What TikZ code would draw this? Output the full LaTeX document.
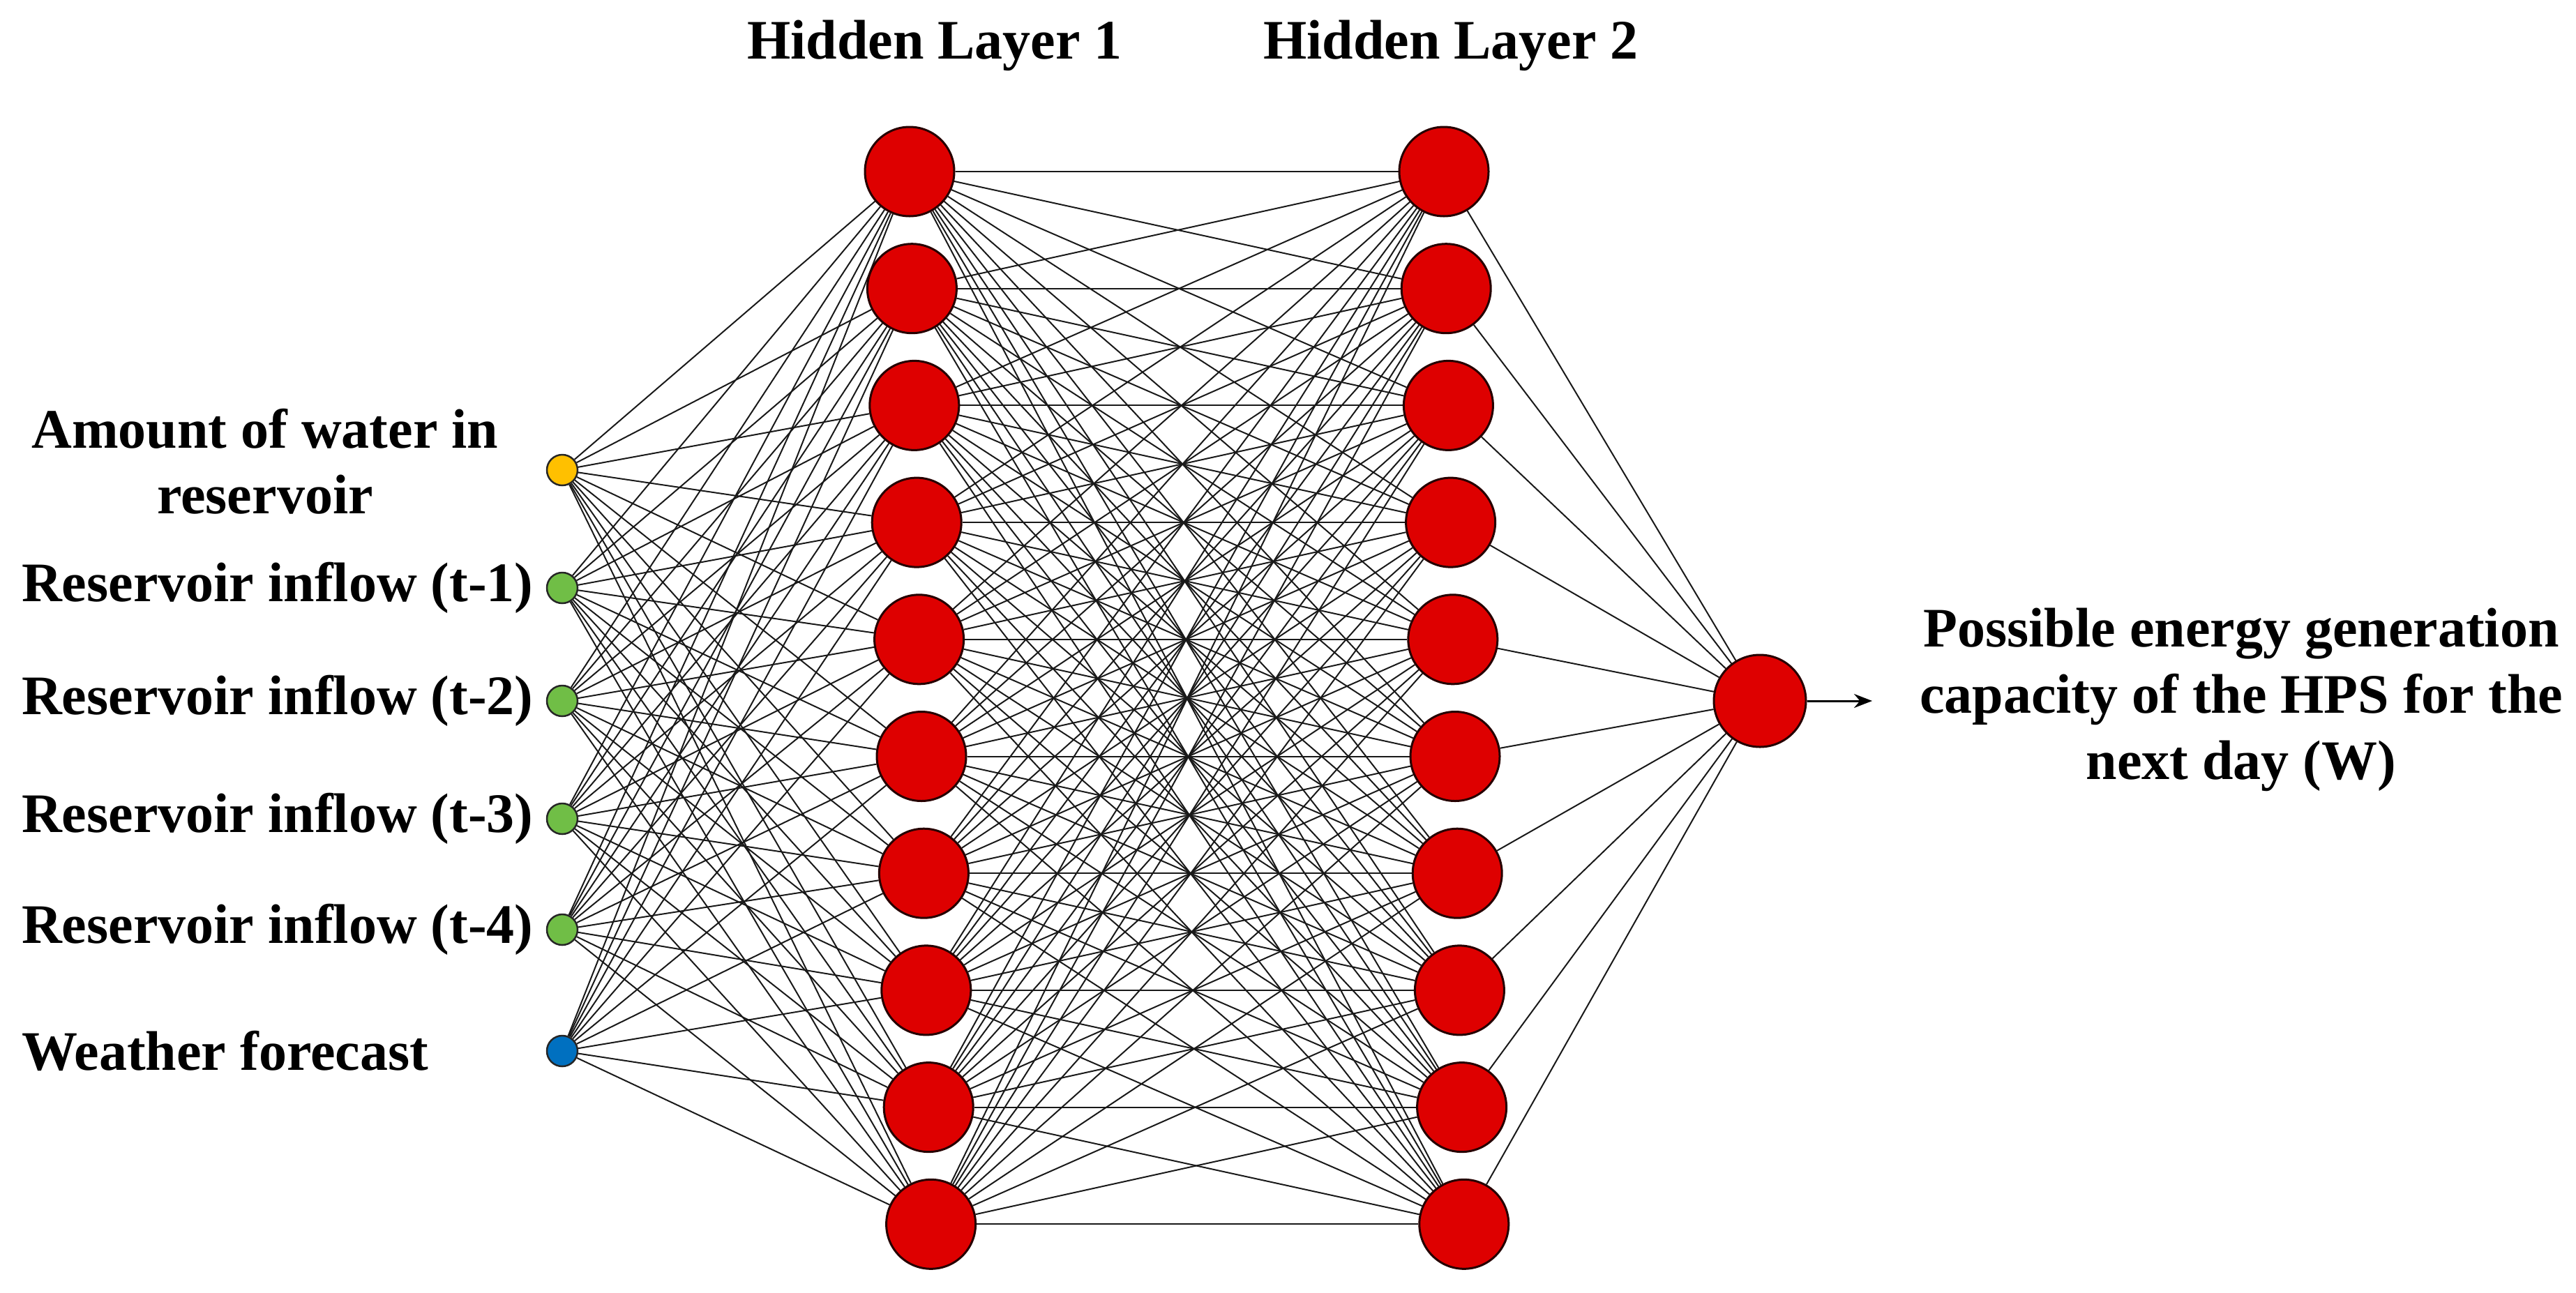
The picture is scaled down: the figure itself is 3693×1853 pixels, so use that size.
\documentclass[tikz,border=0pt]{standalone}
\usepackage{fontspec}
\setmainfont{Liberation Serif}
\usetikzlibrary{backgrounds,arrows.meta}
\definecolor{nred}{RGB}{222,0,0}
\definecolor{norange}{RGB}{255,192,0}
\definecolor{ngreen}{RGB}{112,190,70}
\definecolor{nblue}{RGB}{0,112,192}
\tikzset{
  neuron/.style={circle,draw=black!85!red,line width=3pt,fill=nred,minimum size=128pt,inner sep=0pt},
  inp/.style={circle,draw=black!85,line width=2.5pt,minimum size=44pt,inner sep=0pt},
  wire/.style={line width=2pt,black!90},
  lbl/.style={font=\fontsize{80}{95}\selectfont\bfseries,inner sep=0pt}
}
\begin{document}
\begin{tikzpicture}[x=1pt,y=-1pt]
\useasboundingbox (0,0) rectangle (3693,1853);
% inputs
\foreach \i/\y/\c in {1/674/norange,2/843/ngreen,3/1005/ngreen,4/1174/ngreen,5/1333/ngreen,6/1507/nblue}
  \node[inp,fill=\c] (i\i) at (806,\y) {};
% hidden layers
\foreach \k in {1,...,10} {
  \node[neuron] (a\k) at ({1304+(\k-1)*3.4},{246+(\k-1)*167.7}) {};
  \node[neuron] (b\k) at ({2070+(\k-1)*3.2},{246+(\k-1)*167.7}) {};
}
\node[neuron,minimum size=132pt] (o) at (2523,1005) {};
\coordinate (oe) at (2684,1005);
\begin{scope}[on background layer]
\foreach \i in {1,...,6} \foreach \k in {1,...,10} \draw[wire] (i\i) -- (a\k);
\foreach \j in {1,...,10} \foreach \k in {1,...,10} \draw[wire] (a\j) -- (b\k);
\foreach \k in {1,...,10} \draw[wire] (b\k) -- (o);
\end{scope}
\draw[line width=3pt,-{Stealth[length=26pt,width=20pt]}] (o) -- (oe);
% labels
\node[lbl] (h1) at (1340,65) {Hidden Layer 1};
\node[lbl] (h2) at (2080,65) {Hidden Layer 2};
\node[lbl] (l1a) at (380,615) {Amount of water in};
\node[lbl] (l1b) at (380,709) {reservoir};
\node[lbl,anchor=west] (l2) at (31,843) {Reservoir inflow (t-1)};
\node[lbl,anchor=west] (l3) at (31,1005) {Reservoir inflow (t-2)};
\node[lbl,anchor=west] (l4) at (31,1174) {Reservoir inflow (t-3)};
\node[lbl,anchor=west] (l5) at (31,1333) {Reservoir inflow (t-4)};
\node[lbl,anchor=west] (l6) at (31,1507) {Weather forecast};
\node[lbl,align=center] (out) at (3213,1003) {Possible energy generation\\capacity of the HPS for the\\next day (W)};
\end{tikzpicture}
\end{document}
